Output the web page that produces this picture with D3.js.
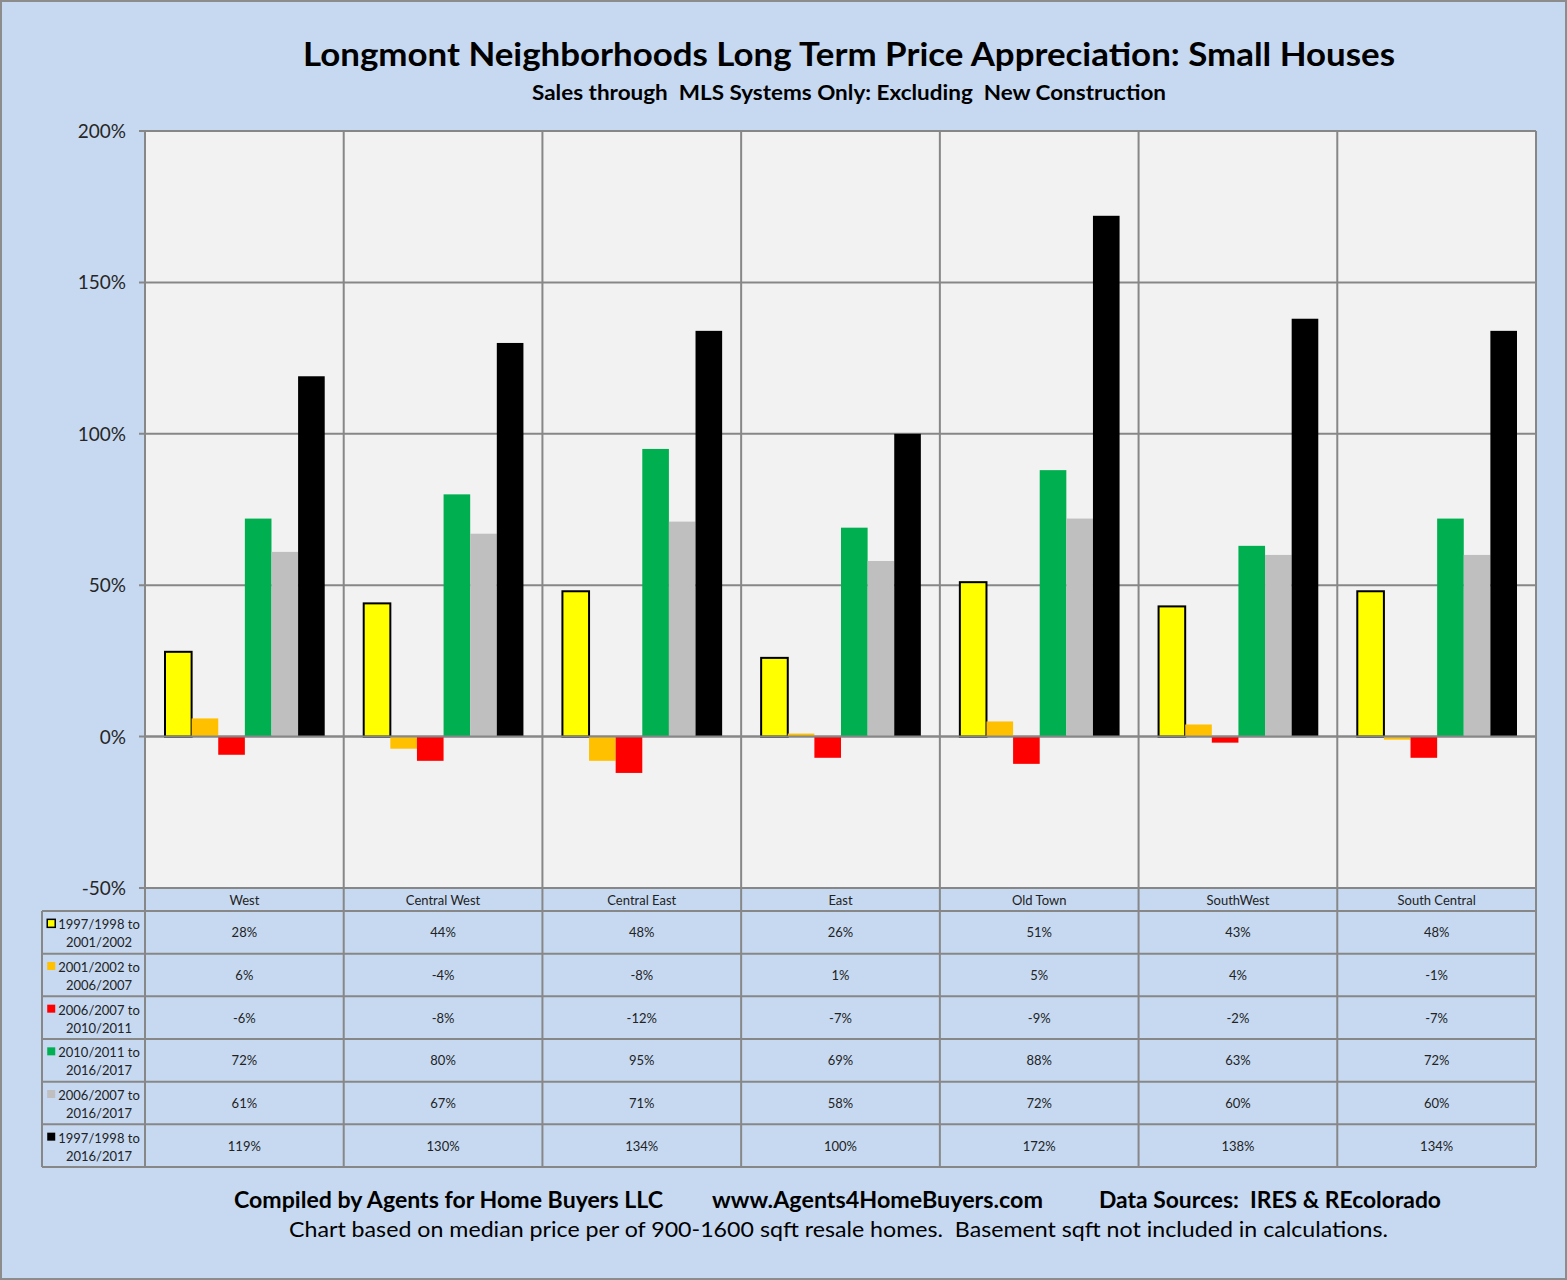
<!DOCTYPE html>
<html>
<head>
<meta charset="utf-8">
<title>Longmont Neighborhoods Long Term Price Appreciation</title>
<script src="https://cdn.jsdelivr.net/npm/d3@7/dist/d3.min.js"></script>
<style>
  body { margin: 0; background: #fff; }
  svg { display: block; font-family: Lato, "Open Sans", sans-serif; }
  svg text { white-space: pre; }
</style>
</head>
<body>
<script>
// data
var categories = ["West", "Central West", "Central East", "East", "Old Town", "SouthWest", "South Central"];
var seriesNames = [
  ["1997/1998 to", "2001/2002"],
  ["2001/2002 to", "2006/2007"],
  ["2006/2007 to", "2010/2011"],
  ["2010/2011 to", "2016/2017"],
  ["2006/2007 to", "2016/2017"],
  ["1997/1998 to", "2016/2017"]
];
var seriesColors = ["#FFFF00", "#FFC000", "#FF0000", "#00B050", "#BFBFBF", "#000000"];
var v9702 = [28, 44, 48, 26, 51, 43, 48];
var v0207 = [6, -4, -8, 1, 5, 4, -1];
var v0711 = [-6, -8, -12, -7, -9, -2, -7];
var v1117 = [72, 80, 95, 69, 88, 63, 72];
var v0717 = [61, 67, 71, 58, 72, 60, 60];
var v9717 = [119, 130, 134, 100, 172, 138, 134];
var yTicks = [-50, 0, 50, 100, 150, 200];

var series = [v9702, v0207, v0711, v1117, v0717, v9717];

var W = 1567, H = 1280;
var plot = { left: 145, right: 1536, top: 131, bottom: 888 };
var tableBottom = 1167, headerBottom = 911, tableLeft = 42;
var grid = "#878787";

var svg = d3.select("body").append("svg").attr("width", W).attr("height", H);

// background
svg.append("rect").attr("x", 1).attr("y", 1).attr("width", W - 2).attr("height", H - 2)
  .attr("fill", "#C6D9F1").attr("stroke", "#8c8c8c").attr("stroke-width", 2);

svg.append("rect").attr("x", plot.left).attr("y", plot.top)
  .attr("width", plot.right - plot.left).attr("height", plot.bottom - plot.top)
  .attr("fill", "#F2F2F2");

// scales
var x = d3.scaleBand().domain(categories).range([plot.left, plot.right]);
var bw = x.bandwidth();
var x1 = d3.scaleBand().domain(d3.range(series.length)).range([20, bw - 19]);
var y = d3.scaleLinear().domain([-50, 200]).range([plot.bottom, plot.top]);

// horizontal grid
svg.append("g").selectAll("line").data(yTicks).enter().append("line")
  .attr("x1", plot.left - 6).attr("x2", plot.right)
  .attr("y1", function(d) { return y(d); }).attr("y2", function(d) { return y(d); })
  .attr("stroke", grid).attr("stroke-width", 2);

// y axis labels
svg.append("g").selectAll("text").data(yTicks).enter().append("text")
  .attr("x", 126).attr("y", function(d) { return y(d) + 7; })
  .attr("text-anchor", "end").attr("font-size", "19px").attr("fill", "#262626")
  .text(function(d) { return d + "%"; });

// bars
series.forEach(function(vals, si) {
  svg.append("g").selectAll("rect").data(vals).enter().append("rect")
    .attr("x", function(d, i) { return x(categories[i]) + x1(si); })
    .attr("width", x1.bandwidth())
    .attr("y", function(d) { return y(Math.max(0, d)); })
    .attr("height", function(d) { return Math.abs(y(d) - y(0)); })
    .attr("fill", seriesColors[si])
    .attr("stroke", si === 0 ? "#000" : "none")
    .attr("stroke-width", si === 0 ? 2 : 0);
});

// zero line on top of bars
svg.append("line").attr("x1", plot.left).attr("x2", plot.right)
  .attr("y1", y(0)).attr("y2", y(0)).attr("stroke", grid).attr("stroke-width", 2);

// table
var rowH = (tableBottom - headerBottom) / series.length;

// vertical lines through plot and table
var vx = categories.map(function(c) { return x(c); }).concat([plot.right]);
svg.append("g").selectAll("line").data(vx).enter().append("line")
  .attr("x1", function(d) { return d; }).attr("x2", function(d) { return d; })
  .attr("y1", plot.top).attr("y2", tableBottom)
  .attr("stroke", grid).attr("stroke-width", 2);

svg.append("line").attr("x1", tableLeft).attr("x2", tableLeft)
  .attr("y1", headerBottom).attr("y2", tableBottom).attr("stroke", grid).attr("stroke-width", 2);

var rowLines = d3.range(series.length + 1).map(function(i) { return headerBottom + i * rowH; });
svg.append("g").selectAll("line").data(rowLines).enter().append("line")
  .attr("x1", tableLeft).attr("x2", plot.right)
  .attr("y1", function(d) { return d; }).attr("y2", function(d) { return d; })
  .attr("stroke", grid).attr("stroke-width", 2);

// category header
svg.append("g").selectAll("text").data(categories).enter().append("text")
  .attr("x", function(d) { return x(d) + bw / 2; }).attr("y", 905)
  .attr("text-anchor", "middle").attr("font-size", "13px").attr("fill", "#222")
  .text(function(d) { return d; });

// values
series.forEach(function(vals, si) {
  var cy = headerBottom + si * rowH + rowH / 2;
  svg.append("g").selectAll("text").data(vals).enter().append("text")
    .attr("x", function(d, i) { return x(categories[i]) + bw / 2; })
    .attr("y", cy + 5)
    .attr("text-anchor", "middle").attr("font-size", "13px").attr("fill", "#222")
    .text(function(d) { return d + "%"; });

  // legend cell
  var lx = 99;
  var t1 = svg.append("text").attr("x", lx).attr("y", cy - 3)
    .attr("text-anchor", "middle").attr("font-size", "13px").attr("fill", "#222")
    .text(seriesNames[si][0]);
  svg.append("text").attr("x", lx).attr("y", cy + 15)
    .attr("text-anchor", "middle").attr("font-size", "13px").attr("fill", "#222")
    .text(seriesNames[si][1]);
  var tw = t1.node().getComputedTextLength();
  svg.append("rect").attr("x", lx - tw / 2 - 11).attr("y", cy - 13)
    .attr("width", 8).attr("height", 8)
    .attr("fill", seriesColors[si])
    .attr("stroke", si === 0 ? "#000" : "none").attr("stroke-width", si === 0 ? 1.5 : 0);
});

// titles
function label(txt, cx, by, size, weight, len) {
  svg.append("text").attr("x", cx).attr("y", by)
    .attr("text-anchor", "middle").attr("font-size", size + "px")
    .attr("font-weight", weight).attr("fill", "#000")
    .attr("textLength", len).attr("lengthAdjust", "spacingAndGlyphs")
    .text(txt);
}
label("Longmont Neighborhoods Long Term Price Appreciation: Small Houses", 849, 66, 32, "bold", 1092);
label("Sales through  MLS Systems Only: Excluding  New Construction", 849, 100, 21, "bold", 634);
label("Compiled by Agents for Home Buyers LLC", 448.5, 1208, 22, "bold", 429);
label("www.Agents4HomeBuyers.com", 877.5, 1208, 22, "bold", 331);
label("Data Sources:  IRES & REcolorado", 1270, 1208, 22, "bold", 342);
label("Chart based on median price per of 900-1600 sqft resale homes.  Basement sqft not included in calculations.", 838.5, 1237, 22, "normal", 1099);
</script>
</body>
</html>
